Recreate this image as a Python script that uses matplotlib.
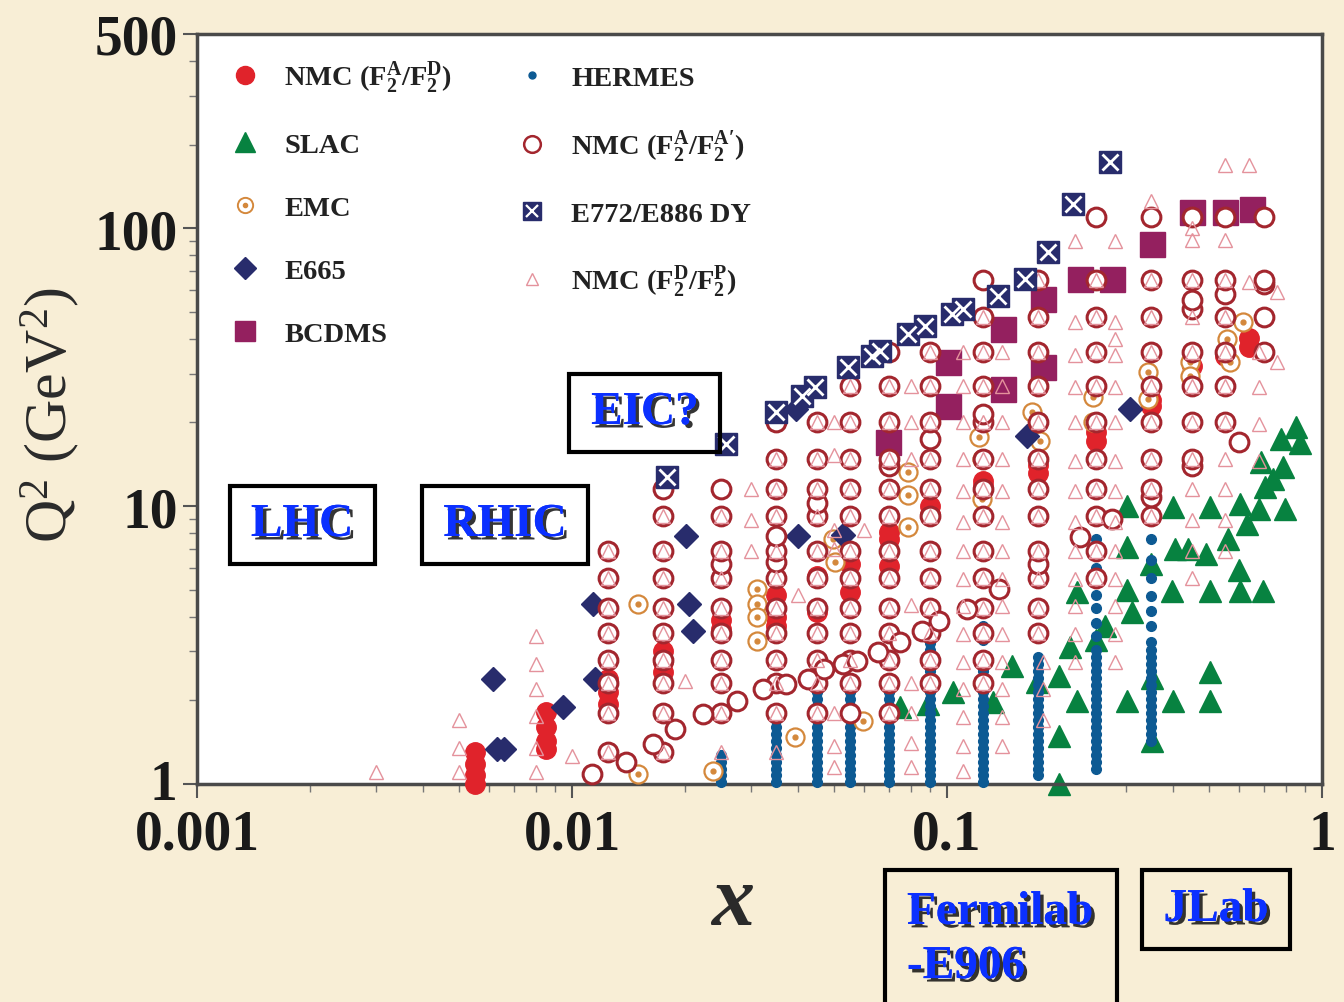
import matplotlib
matplotlib.use('Agg')
import matplotlib.pyplot as plt
import matplotlib.patheffects as pe
import matplotlib.transforms as mtransforms
from matplotlib.lines import Line2D
from matplotlib.patches import Rectangle
from matplotlib.legend_handler import HandlerTuple
from matplotlib.ticker import NullFormatter

plt.rcParams['font.family'] = ['Liberation Serif', 'DejaVu Serif']
plt.rcParams['mathtext.fontset'] = 'custom'
plt.rcParams['mathtext.rm'] = 'Liberation Serif:bold'
plt.rcParams['mathtext.it'] = 'Liberation Serif:italic:bold'
plt.rcParams['mathtext.bf'] = 'Liberation Serif:bold'

# ---------------- data (x, Q^2) ----------------
# NMC (F2A/F2A') open circles, by x bin
nmc_aa_cols = [0.0125, 0.0175, 0.025, 0.035, 0.045, 0.055, 0.07, 0.09,
               0.125, 0.175, 0.25, 0.35, 0.45, 0.55, 0.70]
nmc_aa_q2 = [
    [1.3, 1.8, 2.3, 2.8, 3.5, 4.3, 5.5, 6.9],
    [1.3, 1.8, 2.3, 2.8, 3.5, 4.3, 5.5, 6.9, 9.2, 11.5],
    [1.8, 2.3, 2.8, 3.5, 4.3, 5.5, 6.2, 6.9, 9.2, 11.5],
    [1.8, 2.3, 2.8, 3.5, 4.3, 5.5, 6.3, 6.9, 7.8, 9.2, 11.5, 14.8, 20],
    [1.8, 2.3, 2.8, 3.5, 4.3, 5.5, 6.9, 9.2, 10.3, 11.5, 14.8, 20],
    [1.8, 2.3, 2.8, 3.5, 4.3, 5.5, 6.9, 9.2, 11.5, 14.8, 20, 27],
    [1.8, 2.3, 2.8, 3.5, 4.3, 5.5, 6.9, 9.2, 11.5, 14.0, 14.8, 20, 27, 36],
    [2.3, 2.8, 3.5, 4.3, 5.5, 6.9, 9.2, 11.5, 14.8, 17.5, 20, 27, 36],
    [2.3, 2.8, 3.5, 4.3, 5.5, 6.9, 9.2, 11.5, 14.8, 20, 21.5, 27, 36, 48, 65],
    [3.5, 4.3, 5.5, 6.2, 6.9, 9.2, 11.5, 14.8, 20, 27, 36, 48, 65],
    [5.5, 6.9, 9.2, 11.5, 14.8, 20, 27, 36, 48, 65, 110],
    [9.2, 10.8, 11.5, 14.8, 20, 27, 36, 48, 65, 110],
    [13.9, 14.8, 20, 27, 36, 51, 55, 65, 110],
    [20, 27, 36, 48, 58, 65, 110],
    [36, 48, 63, 65, 110],
]
# NMC (F2A/F2A') points off the bins (lowest Q^2 edge)
nmc_aa_edge_x = [0.0113, 0.0139, 0.0164, 0.0188, 0.0224, 0.0275, 0.0323, 0.0372,
                 0.0426, 0.047, 0.0528, 0.0575, 0.0655, 0.0749, 0.0858, 0.0952,
                 0.113, 0.138, 0.226, 0.275, 0.60]
nmc_aa_edge_q2 = [1.09, 1.20, 1.39, 1.58, 1.79, 1.99, 2.20, 2.29,
                  2.39, 2.59, 2.70, 2.77, 2.98, 3.24, 3.55, 3.86,
                  4.26, 5.03, 7.74, 8.98, 17.0]

# NMC (F2A/F2D) filled red circles
nmc_ad_x = [0.0055, 0.0055, 0.0055, 0.0055, 0.0085, 0.0085, 0.0085, 0.0085,
            0.0125, 0.0125, 0.0125, 0.0175, 0.0175, 0.0175, 0.025, 0.025,
            0.035, 0.035, 0.035, 0.045, 0.045, 0.055, 0.055, 0.07, 0.07, 0.07,
            0.09, 0.09, 0.125, 0.125, 0.175, 0.175, 0.25, 0.25, 0.35, 0.35,
            0.45, 0.55, 0.64, 0.64]
nmc_ad_q2 = [1.30, 1.18, 1.08, 1.0, 1.81, 1.60, 1.43, 1.34,
             2.38, 2.15, 1.94, 3.0, 2.75, 2.53, 3.9, 3.6,
             4.8, 4.0, 3.7, 5.6, 4.15, 6.2, 4.9, 8.1, 7.6, 6.1,
             10.0, 9.4, 12.3, 11.8, 14.1, 13.2, 17.1, 18.5, 22.9, 24.0,
             31.8, 34.6, 40.4, 37.3]

# EMC
emc_x = [0.0150, 0.0150, 0.0311, 0.0311, 0.0311, 0.0311, 0.0393, 0.0238,
         0.0597, 0.0497, 0.0502, 0.0787, 0.0787, 0.0787, 0.124, 0.124, 0.122,
         0.169, 0.177, 0.245, 0.245, 0.343, 0.343, 0.444, 0.444, 0.558,
         0.567, 0.615]
emc_q2 = [4.44, 1.09, 5.03, 4.44, 3.98, 3.27, 1.48, 1.11,
          1.69, 7.6, 6.3, 13.3, 11.0, 8.4, 14.8, 10.6, 17.7,
          21.8, 17.1, 24.6, 20.0, 30.5, 24.2, 32.9, 29.3, 39.8,
          32.9, 45.9]

# E665
e665_x = [0.00615, 0.0063, 0.0066, 0.00946, 0.0114, 0.0115, 0.0201, 0.0205,
          0.021, 0.0396, 0.0401, 0.0529, 0.163, 0.308]
e665_q2 = [2.39, 1.34, 1.34, 1.89, 4.44, 2.39, 7.8, 4.44,
           3.55, 22.3, 7.8, 7.9, 17.9, 22.3]

# BCDMS
bcdms_x = [0.0696, 0.1006, 0.1006, 0.141, 0.141, 0.180, 0.180, 0.226, 0.275,
           0.352, 0.450, 0.552, 0.650]
bcdms_q2 = [17.0, 33.0, 22.9, 43.3, 26.4, 55.6, 31.6, 65.7, 65.7,
            87.6, 114, 114, 117]

# E772/E886 Drell-Yan
e772_x = [0.0179, 0.0257, 0.035, 0.041, 0.0445, 0.0545, 0.0631, 0.0663,
          0.0787, 0.0874, 0.103, 0.110, 0.137, 0.161, 0.186, 0.217, 0.272]
e772_q2 = [12.7, 16.7, 21.8, 24.9, 26.8, 31.6, 34.6, 36.1,
           41.5, 44.4, 49.0, 51.1, 56.9, 65.6, 82.0, 122, 173]

# HERMES, by x bin
hermes_cols = [0.025, 0.035, 0.045, 0.055, 0.07, 0.09, 0.125, 0.175, 0.25, 0.35]
hermes_q2 = [
    [1.02, 1.08, 1.13, 1.20, 1.27],
    [1.02, 1.08, 1.13, 1.20, 1.27, 1.35, 1.43, 1.51, 1.60, 1.70],
    [1.02, 1.08, 1.13, 1.20, 1.27, 1.35, 1.43, 1.51, 1.60, 1.70, 1.80, 1.91, 2.02, 2.14],
    [1.02, 1.08, 1.13, 1.20, 1.27, 1.35, 1.43, 1.51, 1.60, 1.70, 1.80, 1.91, 2.02, 2.14],
    [1.02, 1.08, 1.13, 1.20, 1.27, 1.35, 1.43, 1.51, 1.60, 1.70, 1.80, 1.91, 2.02, 2.14, 2.27],
    [1.02, 1.08, 1.13, 1.20, 1.27, 1.35, 1.43, 1.51, 1.60, 1.70, 1.80, 1.91, 2.02, 2.14,
     2.27, 2.41, 2.55, 2.70, 2.86, 3.03, 3.22],
    [1.02, 1.08, 1.13, 1.20, 1.27, 1.35, 1.43, 1.51, 1.60, 1.70, 1.80, 1.91, 2.02, 2.14,
     2.55, 2.9, 3.3, 3.7, 4.2],
    [1.08, 1.13, 1.20, 1.27, 1.35, 1.43, 1.51, 1.60, 1.70, 1.80, 1.91, 2.02, 2.14,
     2.27, 2.41, 2.55, 2.70, 2.86],
    [1.13, 1.20, 1.27, 1.35, 1.43, 1.51, 1.60, 1.70, 1.80, 1.91, 2.02, 2.14, 2.27, 2.41,
     2.55, 2.70, 2.86, 3.03, 3.4, 3.8, 4.3, 4.8, 5.4, 6.0, 6.8, 7.6],
    [1.43, 1.51, 1.60, 1.70, 1.80, 1.91, 2.02, 2.14, 2.27, 2.41, 2.55, 2.70, 2.86, 3.03,
     3.24, 3.7, 4.2, 4.75, 5.5, 6.4, 7.6],
]

# SLAC
slac_x = [0.302, 0.401, 0.502, 0.604, 0.68, 0.795, 0.705, 0.74, 0.687, 0.785, 0.779, 0.853, 0.876, 0.63,
          0.302, 0.405, 0.44, 0.49, 0.56, 0.35, 0.60,
          0.222, 0.302, 0.398, 0.502, 0.604, 0.697, 0.311, 0.264, 0.25, 0.213,
          0.149, 0.199, 0.352, 0.502, 0.174, 0.1035, 0.133, 0.222, 0.302, 0.401, 0.502, 0.0748, 0.089,
          0.199, 0.352, 0.199]
slac_q2 = [10.0, 9.9, 9.9, 10.2, 9.75, 9.75, 11.7, 12.5, 14.4, 13.8, 17.4, 19.2, 16.9, 8.6,
           7.1, 7.0, 7.0, 6.7, 7.6, 6.2, 5.9,
           4.9, 5.0, 4.95, 4.95, 4.95, 4.95, 4.15, 3.7, 3.3, 3.1,
           2.66, 2.45, 2.4, 2.53, 2.33, 2.14, 1.97, 1.99, 1.99, 1.99, 1.99, 1.89, 1.94,
           1.49, 1.43, 1.0]

# NMC (F2D/F2p) open triangles, by x bin
nmc_dp_cols = [0.003, 0.005, 0.008, 0.010, 0.0125, 0.0175, 0.020, 0.025, 0.030, 0.035,
               0.040, 0.045, 0.050, 0.055, 0.060, 0.070, 0.080, 0.090, 0.110, 0.125,
               0.140, 0.175, 0.18, 0.22, 0.25, 0.28, 0.35, 0.45, 0.55, 0.64, 0.68, 0.76]
nmc_dp_q2 = [
    [1.1],
    [1.1, 1.35, 1.7],
    [1.1, 1.35, 1.75, 2.2, 2.7, 3.4],
    [1.26],
    [1.3, 1.8, 2.3, 2.8, 3.5, 4.3, 5.5, 6.9],
    [1.3, 1.8, 2.3, 2.8, 3.5, 4.3, 5.5, 6.9, 9.2],
    [2.35],
    [1.3, 1.8, 2.3, 2.8, 3.5, 4.3, 5.5, 6.9, 9.2],
    [6.9, 8.9, 11.5],
    [1.3, 1.8, 2.3, 2.8, 3.5, 4.3, 5.5, 6.9, 9.2, 11.5, 14.8],
    [4.8],
    [1.8, 2.3, 2.8, 3.5, 4.3, 5.5, 6.9, 9.2, 11.5, 14.8, 20],
    [1.15, 1.37, 1.8, 7.0, 8.2, 15.3, 20],
    [2.3, 2.8, 3.5, 4.3, 5.5, 6.9, 9.2, 11.5, 14.8, 20, 27],
    [8.2],
    [1.8, 2.3, 2.8, 3.5, 4.3, 5.5, 6.9, 9.2, 11.5, 14.8, 20, 27],
    [1.15, 1.4, 1.8, 2.3, 4.4, 14.8, 20, 27],
    [2.3, 2.8, 3.5, 4.3, 5.5, 6.9, 9.2, 11.5, 14.8, 20, 27, 36],
    [1.11, 1.37, 1.74, 2.19, 2.74, 3.46, 4.37, 5.46, 6.9, 8.8, 11.3, 14.8, 20, 27, 36],
    [2.3, 2.8, 3.5, 4.3, 5.5, 6.9, 9.2, 11.5, 14.8, 20, 27, 36, 48],
    [1.37, 1.74, 2.19, 2.74, 3.46, 4.37, 5.46, 6.9, 8.8, 11.3, 14.8, 20, 27, 36],
    [3.5, 4.3, 5.5, 6.9, 9.2, 11.5, 14.8, 20, 27, 36, 48, 65],
    [1.7, 2.2, 2.75],
    [2.75, 3.46, 4.37, 5.46, 6.9, 8.8, 11.3, 14.5, 20, 26.8, 35, 46, 90],
    [5.5, 6.9, 9.2, 11.5, 14.8, 20, 27, 36, 48, 65],
    [2.75, 3.46, 4.37, 5.46, 6.9, 8.8, 11.3, 14.5, 20, 26.8, 35, 40, 46, 90],
    [9.2, 11.5, 14.8, 20, 27, 36, 48, 65, 125],
    [5.5, 6.9, 8.9, 11.5, 14.8, 20, 27, 36, 48, 65, 91, 100],
    [6.9, 8.9, 11.5, 14.8, 20, 27, 36, 48, 65, 91, 169],
    [64, 169],
    [14.5, 19.7, 26.8, 36],
    [33, 58.9],
]

x_ticks = [0.001, 0.01, 0.1, 1]
x_ticklabels = ['0.001', '0.01', '0.1', '1']
y_ticks = [1, 10, 100, 500]
y_ticklabels = ['1', '10', '100', '500']


def flatten(cols, q2s):
    xs, ys = [], []
    for x, qs in zip(cols, q2s):
        xs += [x] * len(qs)
        ys += qs
    return xs, ys


# ---------------- colours ----------------
c_red = '#e0232b'
c_green = '#078240'
c_orange = '#d4883c'
c_navy = '#282c6c'
c_purple = '#94205f'
c_hermes = '#0d5a93'
c_circ = '#a3262e'
c_pink = '#e4929c'

W, H = 1344, 1003
fig = plt.figure(figsize=(W / 100, H / 100), dpi=100, facecolor='#f8eed6')
ax = fig.add_axes([197 / W, 1 - 785 / H, (1322 - 197) / W, (785 - 35) / H])
ax.set_facecolor('white')
ax.set_xscale('log')
ax.set_yscale('log')
ax.set_xlim(0.001, 1)
ax.set_ylim(1, 500)

kw = dict(ls='none', clip_on=False)
ax.plot(slac_x, slac_q2, marker='^', ms=16, color=c_green, zorder=2, **kw)
hx, hy = flatten(hermes_cols, hermes_q2)
ax.plot(hx, hy, marker='o', ms=7, color=c_hermes, mec=c_hermes, zorder=3, **kw)
ax.plot(nmc_ad_x, nmc_ad_q2, marker='o', ms=14, color=c_red, zorder=4, **kw)
ax.plot(bcdms_x, bcdms_q2, marker='s', ms=18, color=c_purple, zorder=5, **kw)
ax.plot(emc_x, emc_q2, marker='o', ms=13, mfc='white', mec=c_orange, mew=1.6, zorder=6, **kw)
ax.plot(emc_x, emc_q2, marker='o', ms=3.5, color=c_orange, zorder=6, **kw)
ax.plot(e665_x, e665_q2, marker='D', ms=12, color=c_navy, zorder=7, **kw)
cx, cy = flatten(nmc_aa_cols, nmc_aa_q2)
ax.plot(cx + nmc_aa_edge_x, cy + nmc_aa_edge_q2, marker='o', ms=13.5, mfc='white',
        mec=c_circ, mew=2.2, zorder=8, **kw)
tx, ty = flatten(nmc_dp_cols, nmc_dp_q2)
ax.plot(tx, ty, marker='^', ms=10, mfc='none', mec=c_pink, mew=1.0, zorder=9, **kw)
ax.plot(e772_x, e772_q2, marker='s', ms=16, color=c_navy, zorder=10, **kw)
ax.plot(e772_x, e772_q2, marker='x', ms=11, mew=2.0, color='white', zorder=11, **kw)

# axes styling
for sp in ax.spines.values():
    sp.set_color('#4a4a4a')
    sp.set_linewidth(2.5)
ax.set_xticks(x_ticks)
ax.set_xticklabels(x_ticklabels)
ax.set_yticks(y_ticks)
ax.set_yticklabels(y_ticklabels)
ax.xaxis.set_minor_formatter(NullFormatter())
ax.yaxis.set_minor_formatter(NullFormatter())
ax.tick_params(which='major', direction='out', length=10, width=1.5, color='#555555',
               labelsize=40, labelcolor='#1a1a1a')
ax.tick_params(which='minor', direction='out', length=6, width=1.0, color='#777777')
ax.tick_params(axis='x', which='major', pad=8)
ax.tick_params(axis='y', which='major', pad=4)
for lab in ax.get_xticklabels() + ax.get_yticklabels():
    lab.set_fontweight('bold')
# lift the "1" on the y axis a little so it clears "0.001"
lift = mtransforms.ScaledTranslation(0, 5 / 100, fig.dpi_scale_trans)
ylab0 = ax.get_yticklabels()[0]
ylab0.set_transform(ylab0.get_transform() + lift)

ax.set_ylabel(r'Q$\mathregular{^2}$ (GeV$\mathregular{^2}$)', fontsize=43, color='#2a2a2a')
ax.yaxis.label.set_va('center')
ax.yaxis.set_label_coords(-0.131, 0.493)
ax.set_xlabel('x', fontsize=62, style='italic', fontweight='bold', color='#2a2a2a')
ax.xaxis.label.set_va('center')
ax.xaxis.set_label_coords(0.476, -0.16)

# legend
lg_kw = dict(ls='none')
handles = [
    Line2D([], [], marker='o', ms=13, color=c_red, **lg_kw),
    Line2D([], [], marker='^', ms=15, color=c_green, **lg_kw),
    (Line2D([], [], marker='o', ms=11, mfc='white', mec=c_orange, mew=1.4, **lg_kw),
     Line2D([], [], marker='o', ms=3, color=c_orange, **lg_kw)),
    Line2D([], [], marker='D', ms=11, color=c_navy, **lg_kw),
    Line2D([], [], marker='s', ms=15, color=c_purple, **lg_kw),
    Line2D([], [], marker='o', ms=5, color=c_hermes, **lg_kw),
    Line2D([], [], marker='o', ms=12, mfc='white', mec=c_circ, mew=1.8, **lg_kw),
    (Line2D([], [], marker='s', ms=13, color=c_navy, **lg_kw),
     Line2D([], [], marker='x', ms=9, mew=1.6, color='white', **lg_kw)),
    Line2D([], [], marker='^', ms=9, mfc='none', mec=c_pink, mew=1.0, **lg_kw),
]
labels = [
    r'NMC (F$_2^{\mathrm{A}}$/F$_2^{\mathrm{D}}$)',
    'SLAC',
    'EMC',
    'E665',
    'BCDMS',
    'HERMES',
    r'NMC (F$_2^{\mathrm{A}}$/F$_2^{\mathrm{A}\prime}$)',
    'E772/E886 DY',
    r'NMC (F$_2^{\mathrm{D}}$/F$_2^{\mathrm{P}}$)',
]
leg = ax.legend(handles, labels, loc='upper left', bbox_to_anchor=(0, 1.011), ncol=2,
                frameon=False,
                prop={'family': 'Liberation Serif', 'weight': 'bold', 'size': 20.5},
                handlelength=1.0, handletextpad=0.88, columnspacing=2.3,
                labelspacing=1.3, borderaxespad=0.78,
                handler_map={tuple: HandlerTuple(ndivide=1, pad=0)})
for t in leg.get_texts():
    t.set_color('#222222')
leg.set_zorder(20)

# facility boxes (pixel geometry of the picture)
boxes = [
    ((230, 487, 375, 565), 'LHC', (302, 526), 'center'),
    ((422, 487, 588, 565), 'RHIC', (505, 526), 'center'),
    ((569, 375, 720, 453), 'EIC?', (645, 414), 'center'),
    ((885, 871, 1117, 1012), 'Fermilab\n-E906', (907, 941), 'left'),
    ((1142, 871, 1290, 950), 'JLab', (1216, 911), 'center'),
]
shadow = [pe.withSimplePatchShadow(offset=(2.5, -2.5), shadow_rgbFace='#111111', alpha=0.85),
          pe.Normal()]
for (x0, y0, x1, y1), txt, (tx_, ty_), ha in boxes:
    fig.add_artist(Rectangle((x0 / W, 1 - y1 / H), (x1 - x0) / W, (y1 - y0) / H,
                             transform=fig.transFigure, fill=False, edgecolor='black',
                             linewidth=3, zorder=30, clip_on=False))
    fig.text(tx_ / W, 1 - ty_ / H, txt, ha=ha, va='center', ma='left', fontsize=34,
             fontweight='bold', color='#0b30ff', linespacing=1.38, zorder=31,
             path_effects=shadow)

fig.savefig('out.png', dpi=100, facecolor=fig.get_facecolor())
